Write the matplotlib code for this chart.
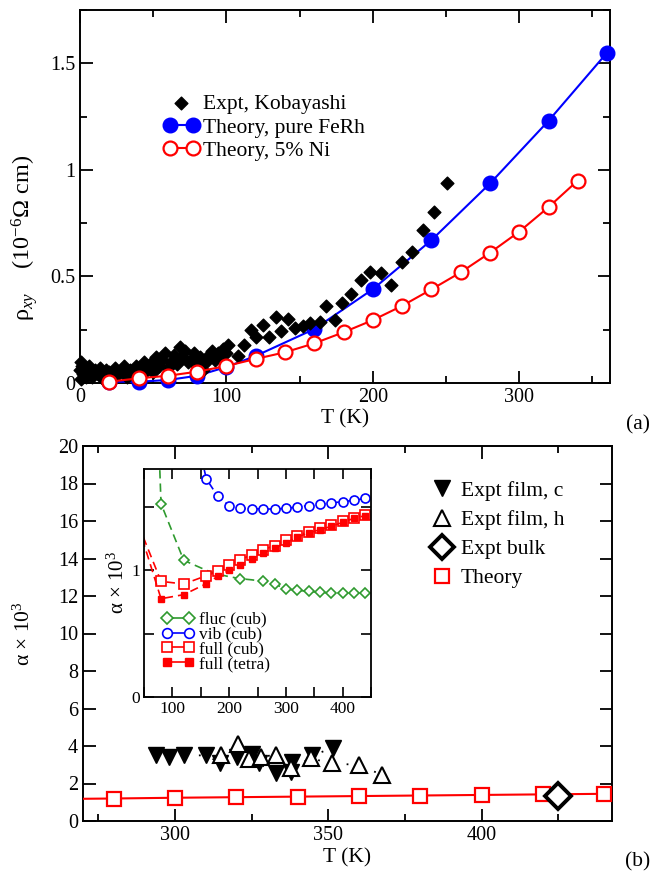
import matplotlib
matplotlib.use("Agg")
import matplotlib.pyplot as plt
from matplotlib.lines import Line2D
from matplotlib.ticker import MultipleLocator, FixedLocator

plt.rcParams['font.family'] = ['Liberation Serif', 'DejaVu Serif']
plt.rcParams['mathtext.fontset'] = 'custom'
plt.rcParams['mathtext.rm'] = 'Liberation Serif'
plt.rcParams['mathtext.it'] = 'Liberation Serif:italic'
plt.rcParams['xtick.direction'] = 'in'
plt.rcParams['ytick.direction'] = 'in'
plt.rcParams['xtick.top'] = True
plt.rcParams['ytick.right'] = True

# ---------------- panel (a) data ----------------
expt_T = [0, 0.5, 1, 1.5, 2, 3, 4, 5, 6, 8, 10, 12, 14, 16, 18, 20, 22, 24, 26, 28,
          30, 32, 34, 36, 38, 40, 42, 44, 46, 48, 50, 52, 54, 56, 58, 60, 62, 64, 66, 68,
          70, 72, 74, 76, 78, 80, 82, 84, 86, 88, 90, 92, 94, 96, 98,
          100, 101, 108, 112, 117, 120.5, 125, 129, 134, 137.5, 142, 147, 152, 157, 164,
          168, 174, 179, 185, 192, 198, 205.6, 212.4, 220, 226.8, 234, 241.7, 250.5]
expt_rho = [0.06, 0.10, 0.02, 0.08, 0.04, 0.07, 0.03, 0.05, 0.08, 0.03, 0.06, 0.04, 0.07, 0.02, 0.06, 0.05, 0.03, 0.07, 0.04, 0.06,
            0.08, 0.03, 0.06, 0.05, 0.08, 0.04, 0.07, 0.10, 0.06, 0.09, 0.05, 0.12, 0.08, 0.11, 0.14, 0.07, 0.10, 0.13, 0.09, 0.17,
            0.12, 0.15, 0.10, 0.11, 0.14, 0.08, 0.12, 0.06, 0.10, 0.13, 0.15, 0.11, 0.14, 0.12, 0.16,
            0.139, 0.178, 0.126, 0.178, 0.248, 0.217, 0.27, 0.217, 0.31, 0.245, 0.298, 0.258, 0.267, 0.28, 0.287,
            0.36, 0.294, 0.373, 0.417, 0.485, 0.52, 0.514, 0.459, 0.566, 0.616, 0.72, 0.80, 0.936]

pure_T = [20, 40, 60, 80, 100, 120, 160, 200, 240, 280, 320, 360]
pure_rho = [0.006, 0.006, 0.014, 0.034, 0.075, 0.127, 0.253, 0.44, 0.67, 0.936, 1.23, 1.55]

ni_T = [20, 40, 60, 80, 100, 120, 140, 160, 180, 200, 220, 240, 260, 280, 300, 320, 340]
ni_rho = [0.006, 0.022, 0.034, 0.053, 0.08, 0.113, 0.144, 0.186, 0.238, 0.295, 0.362, 0.439,
          0.519, 0.611, 0.71, 0.825, 0.95]

# ---------------- panel (b) data ----------------
film_c_T = [293.7, 298, 303, 310, 314.7, 320.3, 325, 327.4, 332.8, 337.7, 338, 344.8, 351.5]
film_c_a = [3.5, 3.43, 3.5, 3.5, 3.11, 3.43, 3.6, 3.07, 2.54, 2.63, 3.17, 3.5, 3.9]
film_h_T = [314.9, 320.5, 324.1, 327.9, 332.8, 337.7, 344.2, 351.3, 360, 367.6]
film_h_a = [3.52, 4.1, 3.33, 3.43, 3.52, 2.81, 3.34, 3.07, 2.99, 2.45]
bulk_T = [425]
bulk_a = [1.35]
theory_T = [260, 280, 300, 320, 340, 360, 380, 400, 420, 440]
theory_a = [1.17, 1.2, 1.24, 1.27, 1.3, 1.33, 1.36, 1.39, 1.42, 1.45]

# ---------------- inset data ----------------
fluc_T = [60, 80, 120, 160, 180, 200, 220, 240, 260, 280, 300, 320, 340, 360, 380, 400, 420, 440]
fluc_a = [4.0, 1.526, 1.079, 1.0, 0.97, 0.95, 0.934, 0.925, 0.913, 0.892, 0.853, 0.842, 0.834,
          0.826, 0.821, 0.821, 0.821, 0.821]
fluc_mark = [1, 2, 6, 8, 9, 10, 11, 12, 13, 14, 15, 16, 17]
vib_T = [140, 160, 180, 200, 220, 240, 260, 280, 300, 320, 340, 360, 380, 400, 420, 440]
vib_a = [2.1, 1.721, 1.584, 1.511, 1.489, 1.487, 1.484, 1.484, 1.489, 1.5, 1.511, 1.521,
         1.532, 1.542, 1.553, 1.568]
fcub_T = [40, 80, 120, 160, 180, 200, 220, 240, 260, 280, 300, 320, 340, 360, 380, 400, 420, 440]
fcub_a = [1.36, 0.913, 0.892, 0.958, 0.992, 1.042, 1.084, 1.124, 1.163, 1.195, 1.242, 1.274,
          1.305, 1.332, 1.358, 1.387, 1.416, 1.439]
ftet_T = [40, 80, 120, 160, 180, 200, 220, 240, 260, 280, 300, 320, 340, 360, 380, 400, 420, 440]
ftet_a = [1.35, 0.776, 0.808, 0.895, 0.953, 1.0, 1.045, 1.089, 1.137, 1.176, 1.216, 1.263,
          1.295, 1.321, 1.347, 1.379, 1.411, 1.432]

BLUE = '#0000ff'
RED = '#ff0000'
GREEN = '#2e9a2e'
FS = 15.5
FT = 14.5
FSI = 11.5

fig = plt.figure(figsize=(6.53, 8.77), dpi=100)

# ================= panel (a) =================
ax1 = fig.add_axes([80/653, 1-383/877, 530/653, 373/877])
ax1.scatter(expt_T, expt_rho, marker='D', s=42, color='black', zorder=4, clip_on=False,
            label='Expt, Kobayashi')
ax1.plot(pure_T, pure_rho, '-o', color=BLUE, ms=10.5, lw=1.5, zorder=3, clip_on=False,
         label='Theory, pure FeRh')
ax1.plot(ni_T, ni_rho, '-o', color=RED, mfc='white', mec=RED, mew=1.6, ms=10, lw=1.5,
         zorder=5, clip_on=False, label='Theory, 5% Ni')
ax1.set_xlim(0, 362)
ax1.set_ylim(0, 1.75)
ax1.xaxis.set_major_locator(MultipleLocator(100))
ax1.xaxis.set_minor_locator(MultipleLocator(50))
ax1.yaxis.set_major_locator(MultipleLocator(0.5))
ax1.yaxis.set_minor_locator(MultipleLocator(0.25))
ax1.set_yticks([0, 0.5, 1, 1.5])
ax1.set_yticklabels(['0', '0.5', '1', '1.5'])
ax1.tick_params(which='major', length=9, width=1.3, labelsize=FT)
ax1.tick_params(which='minor', length=5, width=1.3)
for sp in ax1.spines.values():
    sp.set_linewidth(1.4)
ax1.set_xlabel('T (K)', fontsize=FS)
ax1.xaxis.set_label_coords(0.5, -0.07)
ax1.set_ylabel(r'$\mathrm{\rho}_{xy}$    (10$^{-6}$Ω cm)', fontsize=17.5)
ax1.yaxis.set_label_coords(-0.075, 0.39)
ax1.legend(loc='upper left', bbox_to_anchor=(0.157, 0.775), frameon=False,
           fontsize=FS, numpoints=2, scatterpoints=1, handlelength=1.67,
           handletextpad=0.16, labelspacing=0.16, borderpad=0, borderaxespad=0)
fig.text(638/653, 1-425/877, '(a)', fontsize=FS, ha='center', va='center')

# ================= panel (b) =================
ax2 = fig.add_axes([83/653, 1-821/877, 529/653, 375/877])
ax2.plot(theory_T, theory_a, '-s', color=RED, mfc='white', mec=RED, mew=1.6, ms=10, lw=1.5,
         zorder=3)
ax2.plot(film_c_T, film_c_a, ls=(0, (1, 7)), color='black', lw=1.3, zorder=2)
ax2.plot(film_h_T, film_h_a, ls=(0, (1, 7)), color='black', lw=1.3, zorder=2)
ax2.plot(film_c_T, film_c_a, 'v', color='black', ms=11, ls='none', zorder=4)
ax2.plot(film_h_T, film_h_a, '^', color='black', mfc='white', mew=1.5, ms=11, ls='none', zorder=5)
ax2.plot(bulk_T, bulk_a, 'D', color='black', mfc='white', mew=2.8, ms=13, ls='none', zorder=6)
ax2.set_xlim(270, 442.5)
ax2.set_ylim(0, 20)
ax2.xaxis.set_major_locator(MultipleLocator(50))
ax2.xaxis.set_minor_locator(MultipleLocator(25))
ax2.yaxis.set_major_locator(MultipleLocator(2))
ax2.tick_params(which='major', length=9, width=1.3, labelsize=FT)
ax2.tick_params(which='minor', length=5, width=1.3)
for sp in ax2.spines.values():
    sp.set_linewidth(1.4)
ax2.set_xlabel('T (K)', fontsize=FS)
ax2.xaxis.set_label_coords(0.5, -0.072)
ax2.set_ylabel('α × 10$^{3}$', fontsize=FS)
ax2.yaxis.set_label_coords(-0.092, 0.5)
h2 = [Line2D([], [], marker='v', color='black', ls='none', ms=11),
      Line2D([], [], marker='^', color='black', mfc='white', mew=1.5, ls='none', ms=11),
      Line2D([], [], marker='D', color='black', mfc='white', mew=2.8, ls='none', ms=12),
      Line2D([], [], marker='s', color=RED, mfc='white', mew=1.6, ls='none', ms=10)]
ax2.legend(h2, ['Expt film, c', 'Expt film, h', 'Expt bulk', 'Theory'],
           loc='upper left', bbox_to_anchor=(0.659, 0.907), frameon=False, fontsize=FS,
           numpoints=1, handlelength=1.0, handletextpad=0.35, labelspacing=0.42,
           borderpad=0, borderaxespad=0)
fig.text(638/653, 1-862/877, '(b)', fontsize=FS, ha='center', va='center')

# ================= inset =================
ax3 = fig.add_axes([144/653, 1-697/877, 227/653, 228/877])
ax3.plot(fluc_T, fluc_a, ls=(0, (5, 3)), color=GREEN, lw=1.2, marker='D', mfc='white',
         mec=GREEN, ms=5.5, mew=1.2, markevery=fluc_mark)
ax3.plot(vib_T, vib_a, ls=(0, (5, 3)), color=BLUE, lw=1.2, marker='o', mfc='white',
         mec=BLUE, ms=6.5, mew=1.2, markevery=list(range(1, len(vib_T))))
ax3.plot(fcub_T, fcub_a, ls=(0, (5, 3)), color=RED, lw=1.2, marker='s', mfc='white',
         mec=RED, ms=6.5, mew=1.2, markevery=list(range(1, len(fcub_T))))
ax3.plot(ftet_T, ftet_a, ls=(0, (5, 3)), color=RED, lw=1.2, marker='s', mfc=RED,
         mec=RED, ms=5, mew=1.0, markevery=list(range(1, len(ftet_T))))
ax3.set_xlim(50, 450)
ax3.set_ylim(0, 1.8)
ax3.xaxis.set_major_locator(MultipleLocator(100))
ax3.xaxis.set_minor_locator(MultipleLocator(50))
ax3.yaxis.set_major_locator(FixedLocator([0, 1]))
ax3.yaxis.set_minor_locator(FixedLocator([0.5, 1.5]))
ax3.tick_params(which='major', length=7, width=1.2, labelsize=FSI + 1, pad=3)
ax3.tick_params(which='minor', length=7, width=1.2)
for sp in ax3.spines.values():
    sp.set_linewidth(1.3)
ax3.set_ylabel('α × 10$^{3}$', fontsize=15)
ax3.yaxis.set_label_coords(-0.065, 0.5)
h3 = [Line2D([], [], marker='D', color=GREEN, mfc='white', ms=6, mew=1.2, lw=1.2),
      Line2D([], [], marker='o', color=BLUE, mfc='white', ms=7, mew=1.2, lw=1.2),
      Line2D([], [], marker='s', color=RED, mfc='white', ms=7, mew=1.2, lw=1.2),
      Line2D([], [], marker='s', color=RED, mfc=RED, ms=5.5, mew=1.0, lw=1.2)]
ax3.legend(h3, ['fluc (cub)', 'vib (cub)', 'full (cub)', 'full (tetra)'],
           loc='upper left', bbox_to_anchor=(0.078, 0.374), frameon=False, fontsize=12.5,
           numpoints=2, handlelength=1.85, handletextpad=0.3, labelspacing=-0.08,
           borderpad=0, borderaxespad=0)

fig.savefig('out.png', dpi=100)
